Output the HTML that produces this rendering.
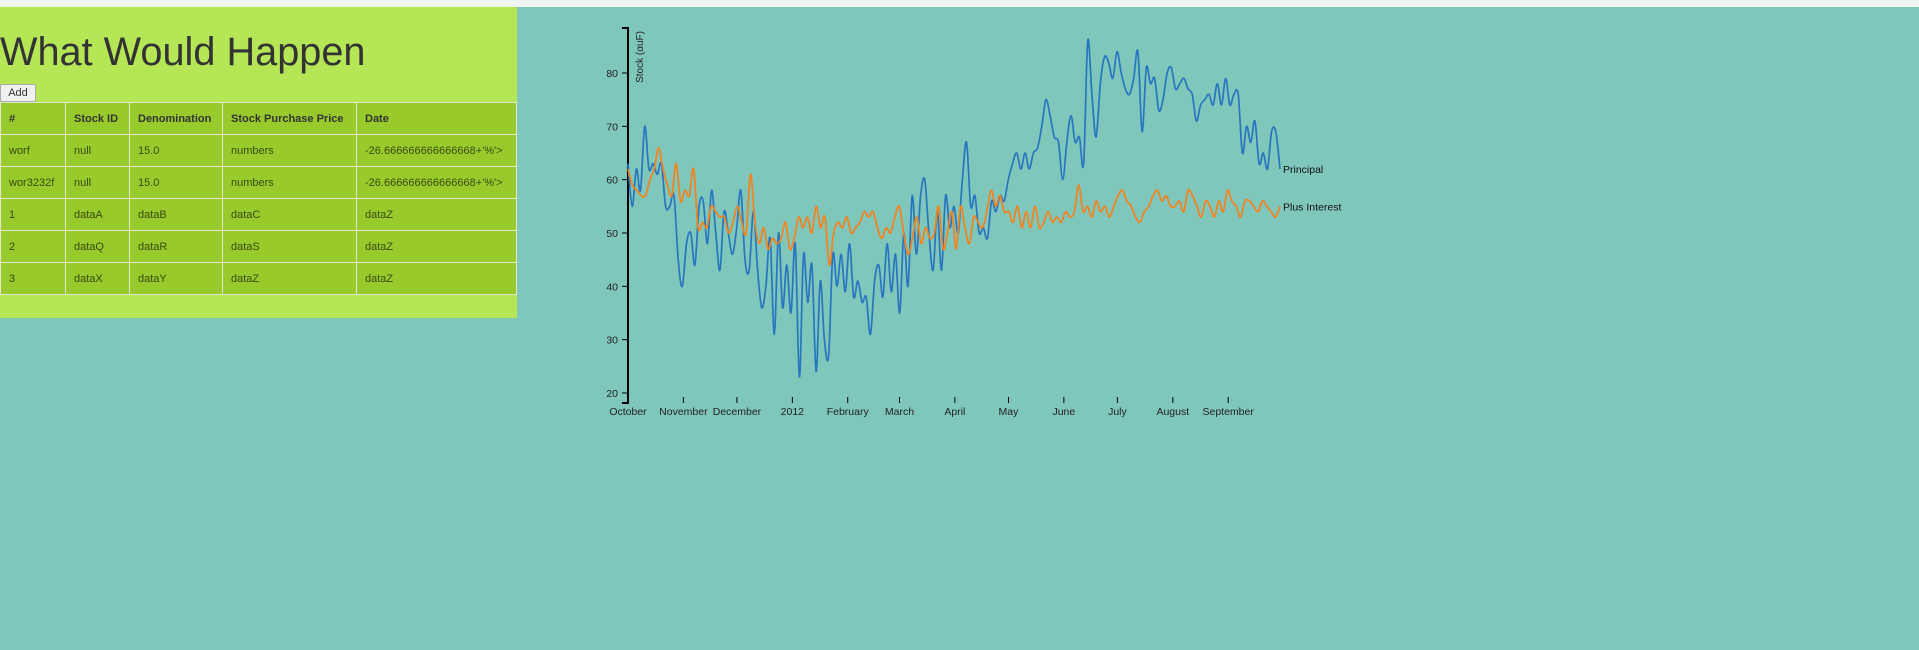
<!DOCTYPE html>
<html><head><meta charset="utf-8">
<style>
html,body{margin:0;padding:0;width:1919px;height:650px;overflow:hidden;background:#7fc6bb;font-family:"Liberation Sans",sans-serif;}
#topbar{position:absolute;left:0;top:0;width:1919px;height:7px;background:#eef5f2;}
#panel{position:absolute;left:0;top:7px;width:517px;height:311px;background:#b5e655;}
h1{position:absolute;left:0;top:23px;margin:0;font-weight:normal;font-size:39.7px;color:#333;white-space:nowrap;}
#add{position:absolute;left:0;top:77px;width:36px;height:18px;font-size:11px;font-family:"Liberation Sans",sans-serif;background:#f0f0f0;border:1px solid #aaa;border-radius:2px;padding:0;color:#333;}
table{position:absolute;left:0;top:95px;border-collapse:collapse;width:517px;font-size:11px;color:#3a4a10;}
td,th{border:1.5px solid #dfe8cf;background:#98ca2c;height:32px;padding:0 0 0 8px;text-align:left;box-sizing:border-box;}
th{font-weight:bold;color:#333;}
svg{position:absolute;left:0;top:0;}
</style></head><body>
<div id="topbar"></div>
<div id="panel">
<h1>What Would Happen</h1>
<button id="add">Add</button>
<table>
<tr><th style="width:65px">#</th><th style="width:64px">Stock ID</th><th style="width:93px">Denomination</th><th style="width:134px">Stock Purchase Price</th><th>Date</th></tr>
<tr><td>worf</td><td>null</td><td>15.0</td><td>numbers</td><td>-26.666666666666668+'%'&gt;</td></tr>
<tr><td>wor3232f</td><td>null</td><td>15.0</td><td>numbers</td><td>-26.666666666666668+'%'&gt;</td></tr>
<tr><td>1</td><td>dataA</td><td>dataB</td><td>dataC</td><td>dataZ</td></tr>
<tr><td>2</td><td>dataQ</td><td>dataR</td><td>dataS</td><td>dataZ</td></tr>
<tr><td>3</td><td>dataX</td><td>dataY</td><td>dataZ</td><td>dataZ</td></tr>
</table>
</div>
<svg id="chart" width="1919" height="650"></svg>
<script>
const principal=[63,55,62,58,70,62,63,61,63,55,55,57,45,40,48,50,44,55,56,48,58,50,43,54,50,46,51,58,45,43,54,43,36,40,49,31,50,36,44,35,48,23,46,37,44,24,41,30,27,46,40,46,39,48,38,41,37,38,31,41,44,38,48,39,46,35,50,40,57,46,57,60,50,43,54,43,57,51,55,50,60,67,55,57,50,51,49,56,54,57,56,60,63,65,62,65,62,65,66,70,75,72,68,67,60,67,72,67,68,63,86,76,68,78,83,82,79,84,80,77,76,79,84,69,81,78,79,73,75,80,81,77,78,79,77,76,71,74,75,76,74,78,74,79,74,76,76,65,70,67,71,63,65,62,69,69,62];
const interest=[62,59,58,57,57,60,62,66,62,59,57,63,56,58,57,62,51,52,51,55,54,53,53,50,52,55,52,50,61,52,48,51,47,49,48,49,52,47,49,53,51,53,50,55,51,53,44,50,52,51,53,50,51,52,54,53,54,51,49,51,50,53,55,50,46,49,53,48,51,49,50,55,47,50,54,47,55,51,48,53,52,51,54,58,55,57,54,54,52,55,51,54,51,55,51,52,54,52,53,52,54,53,54,59,54,55,53,56,54,55,53,55,57,58,56,55,53,52,54,55,57,58,56,57,55,55,56,54,58,57,55,53,56,55,53,56,54,58,56,55,53,56,56,55,54,56,55,54,53,55];
const monthLabels=["October","November","December","2012","February","March","April","May","June","July","August","September"];
const yTicks=[20,30,40,50,60,70,80];
const seriesNames=["Principal","Plus Interest"];

const NS="http://www.w3.org/2000/svg";
const svg=document.getElementById('chart');
const t0=Date.UTC(2011,9,1), t1=Date.UTC(2012,8,30);
const X0=628,X1=1280;
function x(t){return X0+(t-t0)/(t1-t0)*(X1-X0);}
function y(v){return 73+(80-v)*5.333;}
function mk(tag,attrs,parent){const e=document.createElementNS(NS,tag);for(const k in attrs)e.setAttribute(k,attrs[k]);(parent||svg).appendChild(e);return e;}
function pathFor(vals){
  const pts=vals.map((v,i)=>[x(t0+i/(vals.length-1)*(t1-t0)),y(v)]);
  let d="M"+pts[0][0].toFixed(1)+","+pts[0][1].toFixed(1);
  for(let i=0;i<pts.length-1;i++){
    const p0=pts[Math.max(0,i-1)],p1=pts[i],p2=pts[i+1],p3=pts[Math.min(pts.length-1,i+2)];
    const c1=[p1[0]+(p2[0]-p0[0])/6,p1[1]+(p2[1]-p0[1])/6];
    const c2=[p2[0]-(p3[0]-p1[0])/6,p2[1]-(p3[1]-p1[1])/6];
    d+="C"+c1[0].toFixed(1)+","+c1[1].toFixed(1)+" "+c2[0].toFixed(1)+","+c2[1].toFixed(1)+" "+p2[0].toFixed(1)+","+p2[1].toFixed(1);
  }
  return d;
}
const yax=mk('g',{});


mk('path',{d:"M622,28H628V403H622",fill:"none",stroke:"#000","stroke-width":2},yax);
yTicks.forEach(v=>{
  const l=mk('line',{x1:622,x2:628,y1:y(v),y2:y(v),stroke:"#000"},yax);
  
  
  const tx=mk('text',{x:618,y:y(v)+4,"text-anchor":"end","font-size":"10.5px",fill:"#222"},yax);
  
  
  tx.textContent=v;
});
const yl=mk('text',{transform:"translate(643,31) rotate(-90)","text-anchor":"end","font-size":"10px",fill:"#222"},yax);


yl.textContent="Stock (αuF)";
const xax=mk('g',{});


monthLabels.forEach((m,i)=>{
  const t=Date.UTC(2011,9+i,1);
  const px=x(t);
  const l=mk('line',{x1:px,x2:px,y1:397,y2:403,stroke:"#000"},xax);
  
  
  const tx=mk('text',{x:px,y:415,"text-anchor":"middle","font-size":"10.5px",fill:"#222"},xax);
  
  
  tx.textContent=m;
});
const p1=mk('path',{d:pathFor(principal),fill:"none",stroke:"#2876c0","stroke-width":1.7});


const p2=mk('path',{d:pathFor(interest),fill:"none",stroke:"#f7811b","stroke-width":1.7});


const l1=mk('text',{x:X1+3,y:y(principal[principal.length-1])+4,"font-size":"10.5px",fill:"#111"});


l1.textContent=seriesNames[0];
const l2=mk('text',{x:X1+3,y:y(interest[interest.length-1])+4,"font-size":"10.5px",fill:"#111"});


l2.textContent=seriesNames[1];
</script>
</body></html>
